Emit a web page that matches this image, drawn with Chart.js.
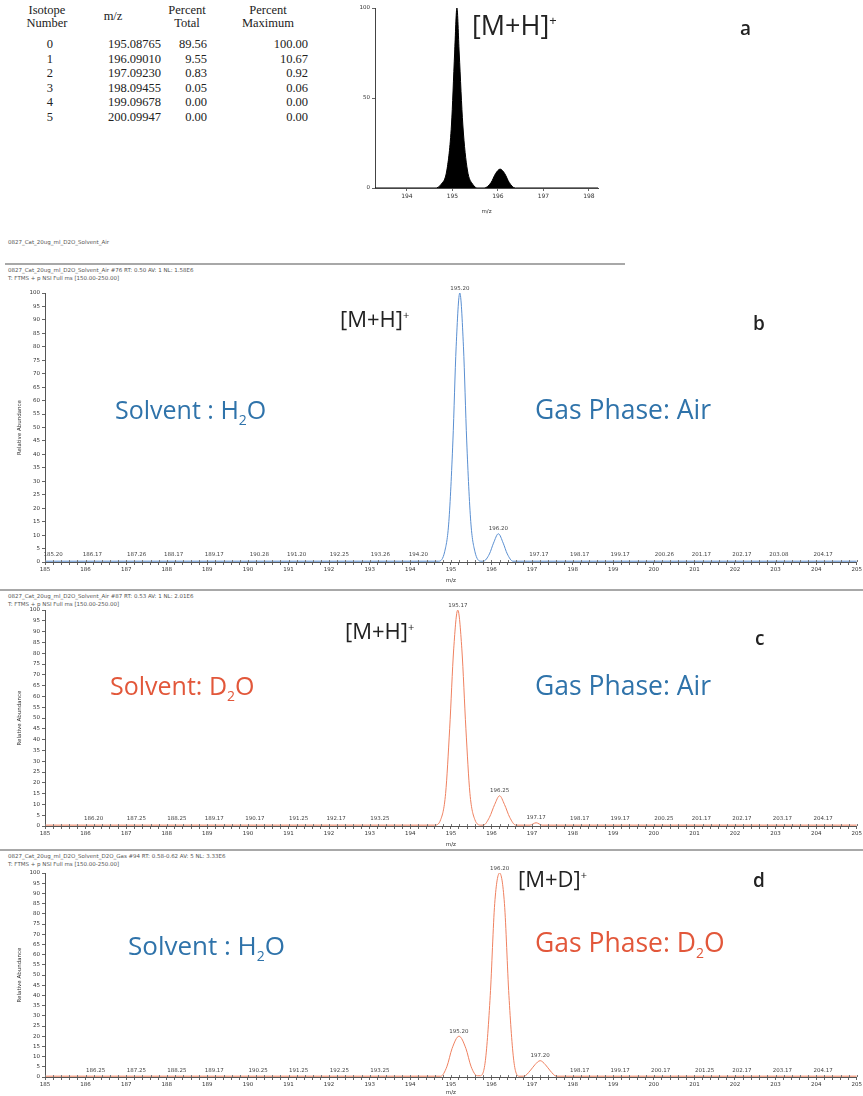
<!DOCTYPE html>
<html lang="en">
<head>
<meta charset="UTF-8" />
<title>Isotope pattern and H/D exchange spectra</title>
<script src="https://cdn.jsdelivr.net/npm/chart.js"></script>
<style>
  body { margin: 0; background: #fff; }
  #page { position: relative; width: 863px; height: 1096px; overflow: hidden; background: #fff; }
  canvas, .abs { position: absolute; }
  .tbl { position: absolute; font-family: "Liberation Serif", serif; font-size: 12.5px; color: #222; line-height: 13px; white-space: nowrap; }
  .tiny { font-family: "DejaVu Sans", sans-serif; font-size: 5.5px; color: #555; line-height: 8px; white-space: nowrap; }
  .lbl { font-family: "Open Sans", sans-serif; white-space: nowrap; line-height: 1; }
  .ion { font-size: 22px; color: #222; }
  .ion sup { font-size: 11px; }
  .panel { font-size: 19px; color: #222; font-weight: 600; }
  .blue { font-size: 25px; color: #2f73aa; }
  .red { font-size: 25px; color: #e2573a; }
  .gas { font-size: 26.5px; }
  .blue sub, .red sub { font-size: 14px; }
  .rule { position: absolute; height: 2px; background: #a8a8a8; }
</style>
</head>
<body>
<div id="page">

  <!-- isotope table is filled in by the script -->
  <div id="table"></div>

  <canvas id="chartA" width="270" height="215" style="left:340px; top:0px;"></canvas>
  <div class="abs lbl ion" style="left:472px; top:11px; font-size:27px;">[M+H]<sup style="font-size:13px">+</sup></div>
  <div class="abs lbl panel" style="left:740px; top:19px;">a</div>

  <!-- panel b -->
  <div class="abs tiny" style="left:8px; top:238px;">0827_Cat_20ug_ml_D2O_Solvent_Air</div>
  <div class="rule" style="left:5px; width:620px; top:263px;"></div>
  <div class="abs tiny" style="left:8px; top:266px;">0827_Cat_20ug_ml_D2O_Solvent_Air #76 RT: 0.50 AV: 1 NL: 1.58E6<br>T: FTMS + p NSI Full ms [150.00-250.00]</div>
  <canvas id="chartB" width="863" height="306" style="left:0px; top:278px;"></canvas>
  <div class="abs lbl ion" style="left:340px; top:307px;">[M+H]<sup>+</sup></div>
  <div class="abs lbl panel" style="left:753px; top:314px;">b</div>
  <div class="abs lbl blue" style="left:115px; top:397px;">Solvent : H<sub>2</sub>O</div>
  <div class="abs lbl blue gas" style="left:535px; top:396px;">Gas Phase: Air</div>

  <!-- panel c -->
  <div class="rule" style="left:0px; width:863px; top:589px;"></div>
  <div class="abs tiny" style="left:8px; top:592px;">0827_Cat_20ug_ml_D2O_Solvent_Air #87 RT: 0.53 AV: 1 NL: 2.01E6<br>T: FTMS + p NSI Full ms [150.00-250.00]</div>
  <canvas id="chartC" width="863" height="252" style="left:0px; top:596px;"></canvas>
  <div class="abs lbl ion" style="left:345px; top:619px;">[M+H]<sup>+</sup></div>
  <div class="abs lbl panel" style="left:755px; top:629px;">c</div>
  <div class="abs lbl red" style="left:110px; top:673px;">Solvent: D<sub>2</sub>O</div>
  <div class="abs lbl blue gas" style="left:535px; top:672px;">Gas Phase: Air</div>

  <!-- panel d -->
  <div class="rule" style="left:0px; width:863px; top:849px;"></div>
  <div class="abs tiny" style="left:8px; top:852px;">0827_Cat_20ug_ml_D2O_Solvent_D2O_Gas #94 RT: 0.58-0.62 AV: 5 NL: 3.33E6<br>T: FTMS + p NSI Full ms [150.00-250.00]</div>
  <canvas id="chartD" width="863" height="237" style="left:0px; top:859px;"></canvas>
  <div class="abs lbl ion" style="left:518px; top:867px;">[M+D]<sup>+</sup></div>
  <div class="abs lbl panel" style="left:753px; top:871px;">d</div>
  <div class="abs lbl blue" style="left:128px; top:932px; font-size:26px;">Solvent : H<sub>2</sub>O</div>
  <div class="abs lbl red gas" style="left:535px; top:929px;">Gas Phase: D<sub>2</sub>O</div>
</div>

<script>
  // ---- panel a: theoretical isotope table ----
  const isoNumber = ["0", "1", "2", "3", "4", "5"];
  const isoMass = ["195.08765", "196.09010", "197.09230", "198.09455", "199.09678", "200.09947"];
  const isoPctTotal = ["89.56", "9.55", "0.83", "0.05", "0.00", "0.00"];
  const isoPctMax = ["100.00", "10.67", "0.92", "0.06", "0.00", "0.00"];

  // ---- panel a: simulated profile ----
  const aMz  = [193.3, 194.62, 194.75, 194.88, 194.98, 195.05, 195.1, 195.15, 195.23, 195.33, 195.45, 195.56, 195.7, 195.85, 195.95, 196.05, 196.15, 196.25, 196.38, 198.2];
  const aInt = [0, 0, 2, 10, 35, 75, 100, 75, 35, 10, 2, 0, 0, 3, 8, 10.5, 8, 3, 0, 0];
  const aTicks = [194, 195, 196, 197, 198];

  // ---- panel b: H2O solvent, air ----
  const bMz  = [185, 194.7, 194.85, 194.95, 195.05, 195.13, 195.22, 195.31, 195.39, 195.49, 195.59, 195.74, 195.8, 195.95, 196.05, 196.17, 196.29, 196.39, 196.53, 205];
  const bInt = [0.3, 0.3, 4, 15, 45, 80, 100, 80, 45, 15, 4, 0.3, 0.3, 3, 7, 10.5, 7, 3, 0.3, 0.3];
  const bPeakMz  = [195.22, 196.17];
  const bPeakInt = [100, 10.5];
  const bPeakTxt = ["195.20", "196.20"];
  const bNoiseMz = [185.20, 186.17, 187.26, 188.17, 189.17, 190.28, 191.20, 192.25, 193.26, 194.20, 197.17, 198.17, 199.17, 200.26, 201.17, 202.17, 203.08, 204.17];

  // ---- panel c: D2O solvent, air ----
  const cMz  = [185, 194.6, 194.75, 194.87, 194.97, 195.07, 195.17, 195.27, 195.37, 195.47, 195.59, 195.74, 195.8, 195.95, 196.08, 196.2, 196.32, 196.45, 196.6, 196.95, 197.1, 197.25, 205];
  const cInt = [0.4, 0.4, 3, 15, 45, 82, 100, 82, 45, 15, 3, 0.4, 0.4, 4, 10, 14, 10, 4, 0.4, 0.4, 1.5, 0.4, 0.4];
  const cPeakMz  = [195.17, 196.2, 197.1];
  const cPeakInt = [100, 14, 1.5];
  const cPeakTxt = ["195.17", "196.25", "197.17"];
  const cNoiseMz = [186.20, 187.25, 188.25, 189.17, 190.17, 191.25, 192.17, 193.25, 198.17, 199.17, 200.25, 201.17, 202.17, 203.17, 204.17];

  // ---- panel d: H2O solvent, D2O gas ----
  const dMz  = [185, 194.75, 194.9, 195.03, 195.2, 195.37, 195.5, 195.65, 195.72, 195.85, 195.97, 196.08, 196.2, 196.32, 196.43, 196.55, 196.68, 196.8, 196.95, 197.07, 197.2, 197.33, 197.45, 197.6, 205];
  const dInt = [0.4, 0.4, 5, 14, 20, 14, 5, 0.6, 0.6, 8, 40, 85, 100, 85, 40, 8, 0.4, 0.4, 3, 6, 8, 6, 3, 0.4, 0.4];
  const dPeakMz  = [195.2, 196.2, 197.2];
  const dPeakInt = [20, 100, 8];
  const dPeakTxt = ["195.20", "196.20", "197.20"];
  const dNoiseMz = [186.25, 187.25, 188.25, 189.17, 190.25, 191.25, 192.25, 193.25, 198.17, 199.17, 200.17, 201.25, 202.17, 203.17, 204.17];

  // build the table (column: centre of header, right edge of values)
  const tableCols = [
    { head: "Isotope<br>Number", cx: 47, right: 53, vals: isoNumber },
    { head: "m/z", cx: 113, right: 161, vals: isoMass },
    { head: "Percent<br>Total", cx: 187, right: 207, vals: isoPctTotal },
    { head: "Percent<br>Maximum", cx: 268, right: 308, vals: isoPctMax }
  ];
  let html = '';
  tableCols.forEach(c => {
    const oneLine = c.head.indexOf('<br>') < 0;
    html += `<div class="tbl" style="left:${c.cx - 50}px; width:100px; text-align:center; top:${oneLine ? 10 : 4}px;">${c.head}</div>`;
    c.vals.forEach((v, i) => {
      html += `<div class="tbl" style="left:${c.right - 80}px; width:80px; text-align:right; top:${38 + i * 14.5}px;">${v}</div>`;
    });
  });
  document.getElementById("table").innerHTML = html;

  // small peak / noise labels on the spectra, plus tick marks crossing the axis
  const peakLabels = {
    id: 'peakLabels',
    afterDatasetsDraw(chart, args, opts) {
      const { ctx, scales: { x, y } } = chart;
      ctx.save();
      ctx.strokeStyle = '#777';
      ctx.lineWidth = 1;
      ctx.beginPath();
      x.ticks.forEach(t => {
        const px = Math.round(x.getPixelForValue(t.value)) + 0.5;
        ctx.moveTo(px, y.bottom);
        ctx.lineTo(px, y.bottom - 2);
      });
      ctx.stroke();
      ctx.font = '5.5px "DejaVu Sans"';
      ctx.fillStyle = '#444';
      ctx.textAlign = 'center';
      ctx.textBaseline = 'bottom';
      (opts.mz || []).forEach((m, i) => {
        ctx.fillText(opts.txt[i], x.getPixelForValue(m), y.getPixelForValue(opts.val[i]) - 2);
      });
      (opts.noise || []).forEach(m => {
        ctx.fillText(m.toFixed(2), x.getPixelForValue(m), y.getPixelForValue(1.5) - 1);
      });
      ctx.restore();
    }
  };

  function spectrum(id, mz, inten, color, pk, noise, pad, xh) {
    new Chart(document.getElementById(id), {
      type: 'line',
      data: {
        datasets: [{
          data: mz.map((m, i) => ({ x: m, y: inten[i] })),
          borderColor: color,
          borderWidth: 1,
          pointRadius: 0,
          cubicInterpolationMode: 'monotone',
          fill: false
        }]
      },
      options: {
        responsive: false,
        animation: false,
        devicePixelRatio: 1,
        layout: { padding: { top: pad, right: 5, left: 0, bottom: 0 } },
        plugins: {
          legend: { display: false },
          tooltip: { enabled: false },
          peakLabels: { mz: pk[0], val: pk[1], txt: pk[2], noise: noise }
        },
        scales: {
          x: {
            type: 'linear', min: 185, max: 205,
            afterFit: s => { s.height = xh; },
            afterBuildTicks: s => {
              const t = [];
              for (let k = 0; k <= 100; k++) t.push({ value: 185 + k * 0.2 });
              s.ticks = t;
            },
            ticks: {
              autoSkip: false, maxRotation: 0, padding: 1,
              font: { size: 5.5, family: 'DejaVu Sans' }, color: '#333',
              callback: v => Math.abs(v - Math.round(v)) < 1e-6 ? String(Math.round(v)) : ''
            },
            grid: { drawOnChartArea: false, drawTicks: true, tickLength: 3, color: '#666' },
            border: { display: true, color: '#555', width: 1 },
            title: { display: true, text: 'm/z', font: { size: 5.5, family: 'DejaVu Sans' }, color: '#333', padding: 0 }
          },
          y: {
            min: 0, max: 100,
            afterFit: s => { s.width = 45; },
            afterBuildTicks: s => {
              const t = [];
              for (let k = 0; k <= 100; k += 5) t.push({ value: k });
              s.ticks = t;
            },
            ticks: { font: { size: 5.5, family: 'DejaVu Sans' }, color: '#333', padding: 2 },
            grid: { drawOnChartArea: false, drawTicks: true, tickLength: 3, color: '#666' },
            border: { display: true, color: '#555', width: 1 },
            title: { display: true, text: 'Relative Abundance', font: { size: 5.5, family: 'DejaVu Sans' }, color: '#333', padding: { top: 16, bottom: 0 } }
          }
        }
      },
      plugins: [peakLabels]
    });
  }

  spectrum('chartB', bMz, bInt, '#5a8fd1', [bPeakMz, bPeakInt, bPeakTxt], bNoiseMz, 15, 22);
  spectrum('chartC', cMz, cInt, '#ef8160', [cPeakMz, cPeakInt, cPeakTxt], cNoiseMz, 14, 22);
  spectrum('chartD', dMz, dInt, '#ef8160', [dPeakMz, dPeakInt, dPeakTxt], dNoiseMz, 14, 19);

  // panel a profile
  new Chart(document.getElementById('chartA'), {
    type: 'line',
    data: {
      datasets: [{
        data: aMz.map((m, i) => ({ x: m, y: aInt[i] })),
        borderColor: '#000',
        backgroundColor: '#000',
        borderWidth: 1,
        pointRadius: 0,
        cubicInterpolationMode: 'monotone',
        fill: 'origin'
      }]
    },
    options: {
      responsive: false,
      animation: false,
      devicePixelRatio: 1,
      layout: { padding: { top: 8, right: 12, left: 0, bottom: 0 } },
      plugins: { legend: { display: false }, tooltip: { enabled: false } },
      scales: {
        x: {
          type: 'linear', min: 193.3, max: 198.2,
          afterFit: s => { s.height = 27; },
          afterBuildTicks: s => { s.ticks = aTicks.map(v => ({ value: v })); },
          ticks: { font: { size: 6, family: 'DejaVu Sans' }, color: '#333', padding: 2, maxRotation: 0 },
          grid: { drawOnChartArea: false, tickLength: 3, color: '#666' },
          border: { display: true, color: '#444', width: 1 },
          title: { display: true, text: 'm/z', font: { size: 5.5, family: 'DejaVu Sans' }, color: '#333', padding: 0 }
        },
        y: {
          min: 0, max: 100,
          afterFit: s => { s.width = 35; },
          afterBuildTicks: s => { s.ticks = [0, 50, 100].map(v => ({ value: v })); },
          ticks: { font: { size: 5.5, family: 'DejaVu Sans' }, color: '#333', padding: 2 },
          grid: { drawOnChartArea: false, tickLength: 3, color: '#666' },
          border: { display: true, color: '#444', width: 1 }
        }
      }
    }
  });
</script>
</body>
</html>
